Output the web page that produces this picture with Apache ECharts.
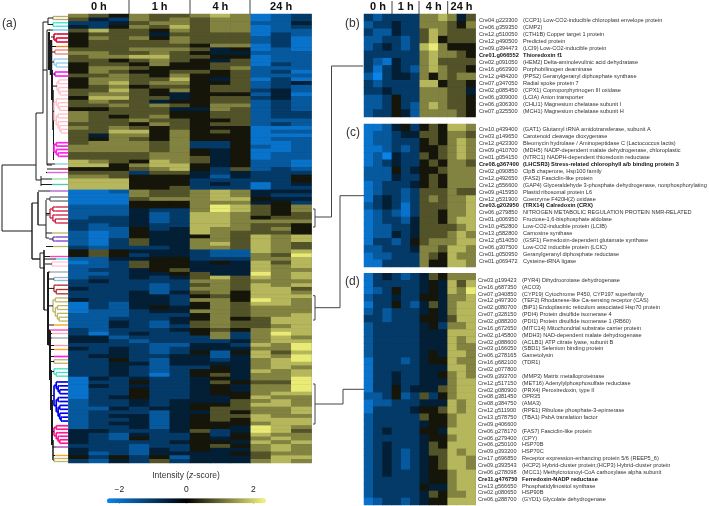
<!DOCTYPE html>
<html><head><meta charset="utf-8">
<script src="https://cdn.jsdelivr.net/npm/echarts@6/dist/echarts.min.js"></script>
<style>html,body{margin:0;padding:0;background:#fff}#c{width:709px;height:506px}</style>
</head><body><div id="c"></div><script>
// z-score code: each character of a row is an index into zLevels
const zLevels=[-2.37,-2.05,-1.6,-1.05,-0.55,0.2,0.8,1.25,1.75,2.25];
const columns=['0 h','0 h','0 h','1 h','1 h','1 h','4 h','4 h','4 h','24 h','24 h','24 h'];
const mainRows=["765766787123","643767677123","334677677224","435768677123","686657677122","566646666132","576757666231","566667666231","566666577131","666777645121","776676544222","677886655122","665676546122","566575566132","577655567222","576556656231","667657556222","577668546131","578677556234","567566566232","668657566342","677654555241","588664566342","676645566232","667676577232","556664476232","766665566233","765675566233","766766556222","666576566232","767656555111","668857565122","647757555111","657657555122","677767335112","777767335212","777767545112","666677545122","666677645122","876587645221","885788545221","555678536232","666366434333","776555424335","888555333335","888555343134","888556333133","112766787444","111766787433","111677788544","111555777453","222555798657","222433798657","222423887656","233423887566","333423887777","323433887665","322534877675","212544876665","212544576878","213644776878","213644786876","323334776876","565444322878","565344322769","224455333778","123655454868","223655444878","233456444877","223445644978","233434686878","343333776777","333323676878","433323776886","333424675887","333443565888","433443775987","132443576887","132454576777","122344776777","222333576778","223334575688","224324676688","224323676678","323334565788","313433573798","442333373787","443233334788","333322443879","434323444779","334323525868","344334424879","335324434789","334424444788","334323354787","334323554878","334313564778","143433454779","133533465669","143433454779","133533454779","133533455788","134533445877","233434446787","233434556887","224344566778","233324465778","234424566877","233424565888","234424555788","233424554987","443334634986","432433535877","432533545787","433334554878","333233565787","433243544787","423244445677","535352444688","324363444787"];
const panelBRows=["323333778746","233433777657","322433687666","223323685666","234323897555","333333787765","321433786666","313432787665","203443757677","323333885665","334333777664","223533777665","223532787665","233542777765"];
const panelCRows=["112453565887","122344665776","122333565787","112323556787","120433656787","123433565776","222534556777","222433565777","123334565777","123323666766","134323676778","234313666778","123213665778","123324665788","122334666678","122434666787","133235677788","223334776887","122333765877","113333755887"];
const panelDRows=["134323465777","133333454868","123533454879","233433554778","133532464788","232333454788","332333554688","233333453778","233333444888","233333444878","233333444877","233333454887","133323455877","133333444887","133433445787","133433444788","133534446788","223523635788","122333444878","133334556878","233333655788","233333455788","234333554888","233333455788","234333465888","234323466878","234323456887","234323456887","234333455788","233333455788","233333544788","233333465778","123323455888"];
const panelBLabels=[["Cre04.g223300","(CCP1) Low-CO2-inducible chloroplast envelope protein"],["Cre06.g359350","(CMP2)"],["Cre12.g510050","(CTH1B) Copper target 1 protein"],["Cre12.g490500","Predicted protein"],["Cre09.g394473","(LCI9) Low-CO2-inducible protein"],["Cre01.g066552","Thioredoxin f1",1],["Cre02.g091050","(HEM2) Delta-aminolevulinic acid dehydratase"],["Cre16.g663900","Porphobilinogen deaminase"],["Cre12.g484200","(PPS2) Geranylgeranyl diphosphate synthase"],["Cre07.g347050","Radial spoke protein 7"],["Cre02.g085450","(CPX1) Coproporphyrinogen III oxidase"],["Cre06.g309000","(LCIA) Anion transporter"],["Cre06.g306300","(CHLI1) Magnesium chelatase subunit I"],["Cre07.g325500","(MCH1) Magnesium chelatase subunit H"]];
const panelCLabels=[["Cre10.g439400","(GAT1) Glutamyl tRNA amidotransferase, subunit A"],["Cre03.g149650","Carotenoid cleavage dioxygenase"],["Cre12.g423300","Bleomycin hydrolase / Aminopeptidase C (Lactococcus lactis)"],["Cre09.g410700","(MDH5) NADP-dependent malate dehydrogenase, chloroplastic"],["Cre01.g054150","(NTRC1) NADPH-dependent thioredoxin reductase"],["Cre08.g367400","(LHCSR3) Stress-related chlorophyll a/b binding protein 3",1],["Cre02.g090850","ClpB chaperone, Hsp100 family"],["Cre12.g492650","(FAS2) Fasciclin-like protein"],["Cre12.g556600","(GAP4) Glyceraldehyde 3-phosphate dehydrogenase, nonphosphorylating"],["Cre09.g415950","Plastid ribosomal protein L6"],["Cre12.g531900","Coenzyme F420H(2) oxidase"],["Cre03.g202950","(TRX14) Calredoxin (CRX)",1],["Cre06.g279850","NITROGEN METABOLIC REGULATION PROTEIN NMR-RELATED"],["Cre01.g006950","Fructose-1,6-bisphosphate aldolase"],["Cre10.g452800","Low-CO2-inducible protein (LCIB)"],["Cre13.g582800","Carnosine synthase"],["Cre12.g514050","(GSF1) Ferredoxin-dependent glutamate synthase"],["Cre06.g307500","Low-CO2 inducible protein (LCIC)"],["Cre01.g050950","Geranylgeranyl diphosphate reductase"],["Cre01.g069472","Cysteine-tRNA ligase"]];
const panelDLabels=[["Cre03.g199423","(PYR4) Dihydroorotase dehydrogenase"],["Cre16.g687350","(ACO3)"],["Cre07.g340850","(CYP19) Cytochrome P450, CYP197 superfamily"],["Cre12.g497300","(TEF2) Rhodanese-like Ca-sensing receptor (CAS)"],["Cre02.g080700","(BiP1) Endoplasmic reticulum associated Hsp70 protein"],["Cre07.g328150","(PDI4) Protein disulfide isomerase 4"],["Cre02.g088200","(PDI1) Protein disulfide isomerase 1 (RB60)"],["Cre16.g672650","(MITC14) Mitochondrial substrate carrier protein"],["Cre02.g145800","(MDH3) NAD-dependent malate dehydrogenase"],["Cre02.g088600","(ACLB1) ATP citrate lyase, subunit B"],["Cre03.g166050","(SBD1) Selenium binding protein"],["Cre06.g278165","Gametolysin"],["Cre16.g682100","(TDR1)"],["Cre02.g077800",""],["Cre09.g393700","(MMP3) Matrix metalloproteinase"],["Cre12.g517150","(MET16) Adenylylphosphosulfate reductase"],["Cre02.g080900","(PRX4) Peroxiredoxin, type II"],["Cre08.g381450","OPR35"],["Cre08.g384750","(AMA3)"],["Cre12.g511900","(RPE1) Ribulose phosphate-3-epimerase"],["Cre13.g578750","(TBA1) PsbA translation factor"],["Cre09.g406600",""],["Cre06.g278170","(FAS7) Fasciclin-like protein"],["Cre06.g279400","(CPY)"],["Cre06.g250100","HSP70B"],["Cre09.g393200","HSP70C"],["Cre17.g696850","Receptor expression-enhancing protein 5/6 (REEP5_6)"],["Cre09.g393543","(HCP2) Hybrid-cluster protein;(HCP3) Hybrid-cluster protein"],["Cre06.g278098","(MCC1) Methylcrotonoyl-CoA carboxylase alpha subunit"],["Cre11.g476750","Ferredoxin-NADP reductase",1],["Cre13.g566650","Phosphatidylinositol synthase"],["Cre02.g080650","HSP90B"],["Cre06.g288700","(GYD1) Glycolate dehydrogenase"]];
// dendrogram, in the page-sized overlay axis: [x1,y1,x2,y2,width]
const trunkLines=[[2,165,2,231,1],[2,165,36,165,1],[2,231,32,231,1],[36,113,36,180,1],[36,113,43,113,1],[36,180,41,180,1],[43,22,43,113,1],[43,22,48,22,1],[48,18,48,25,1],[43,70,47,70,1],[47,30,47,165,1],[47,165,52,165,1],[47,30,50,30,1],[49,32,49,70,2],[51,40,51,75,2.5],[52,70,52,100,2],[53,90,53,130,1.5],[53.5,110,53.5,160,1],[41,176,41,186,1],[32,203,32,259,1.4],[32,203,38,203,1],[32,259,40,259,1.4],[38,192,38,225,1.4],[38,225,46,225,1],[46,200,46,238,1],[46,215,49,215,1],[46,238,49,238,1],[40,253,40,268,1],[40,253,44,253,1],[40,268,45,268,1],[44,250,44,310,1.6],[44,310,48,310,1],[48,272,48,345,2],[48,345,50,345,1],[50,330,50,380,2],[51,370,51,410,2],[52,400,52,445,2],[53,440,53,460,1.5]];
// coloured sub-clusters: [top,bottom,colour,root depth,trunk depth]
const clusters=[[15,21,'#b5a96b',53,48],[21,28,'#40e0d0',53,48],[29,31,'#5fc8f8',53,49],[32,44,'#e0143c',54,51],[45,48,'#e8871e',56,51],[48,56,'#f08070',55,51],[57,69,'#90c8f0',54,52],[70,78,'#ff20e8',55,52],[78,97,'#ffc0cb',57,53],[97,135,'#ffc0cb',54,53],[141,158,'#ff20e8',54,53.5],[163,165,'#90c8f0',55,47],[167,171,'#b02040',58,47],[170,175,'#e060e0',46,47],[177,181,'#90e8a0',52,41],[183,186,'#50c8b0',52,41],[189,193,'#b060d0',50,38],[195,203,'#707070',50,46],[205,225,'#d02040',50,46],[231,235,'#bdb76b',52,46],[235,243,'#8040d0',53,49],[245,248,'#bdb76b',53,46],[255,258,'#ff40c0',50,44],[258,260,'#40d8f8',56,44],[260,268,'#ffc8d8',52,45],[270,274,'#a0a8b8',50,48],[276,282,'#90b8d0',54,48],[283,296,'#b03030',54,48],[296,323,'#bdb76b',53,48],[323,327,'#ffa020',54,48],[329,331,'#ff40c0',50,48],[331,336,'#f0b0c0',52,48],[336,340,'#a0a8a8',52,48],[343,348,'#f0a0a0',54,50],[348,351,'#ffa020',54,50],[355,358,'#ff20e8',54,50],[358,365,'#bdb76b',54,50],[367,378,'#40e0c0',54,50],[380,423,'#0000f0',54,51],[424,445,'#ff1493',54,52],[445,449,'#a040c0',56,52],[454,457,'#ffa020',55,53],[457,463,'#bdb76b',54,53]];
// separators and brackets that link the main map to the detail panels
const linkLines=[[129,0,129,14,1],[190,0,190,14,1],[250,0,250,14,1],[392,1,392,14,1],[419,1,419,14,1],[447.7,1,447.7,14,1],
[313,209,315,209,1],[315,209,315,227,1],[313,227,315,227,1],[315,217,331.5,217,1],[331.5,66,331.5,217,1],[331.5,66,363,66,1],
[313,295.7,315,295.7,1],[315,295.7,315,320,1],[313,320,315,320,1],[315,307.7,340,307.7,1],[340,195.7,340,307.7,1],[340,195.7,364,195.7,1],
[313,384,315,384,1],[315,384,315,424,1],[313,424,315,424,1],[315,404,343,404,1],[343,389.3,343,404,1],[343,389.3,364,389.3,1]];

const segs=[];
trunkLines.forEach(s=>segs.push({v:s,c:'#1a1a1a'}));
linkLines.forEach(s=>segs.push({v:s,c:'#444'}));
const leafEnd=68, rowPx=3.74;
clusters.forEach(([y0,y1,color,root,trunk])=>{
  const n=Math.max(1,Math.round((y1-y0)/rowPx));
  const step=(y1-y0)/n, w=(color==='#0000f0'||color==='#e0143c'||color==='#ff20e8'||color==='#ff1493')?1.7:1.35;
  const add=(a,b,c,d)=>segs.push({v:[a,b,c,d,w],c:color});
  const build=(lo,hi,x)=>{
    if(lo===hi){const y=y0+step*(lo+.5);add(x,y,leafEnd,y);return y;}
    const mid=lo+Math.max(1,Math.floor((hi-lo+1)*.4));
    const nx=x+Math.max(1.2,(leafEnd-x)*.16);
    const a=build(lo,mid-1,nx), b=build(mid,hi,nx);
    add(x,a,nx,a);add(x,b,nx,b);add(x,a,x,b);
    return (a+b)/2;
  };
  const yr=build(0,n-1,root);
  segs.push({v:[trunk,yr,root,yr,1],c:'#1a1a1a'});
});

const heat=(rows)=>{const d=[];rows.forEach((r,i)=>{[...r].forEach((ch,j)=>d.push([j,i,zLevels[+ch]]));});return d;};
const panels=[
 {rows:mainRows,left:68.5,top:14,w:243,h:449,head:11},
 {rows:panelBRows,left:364,top:14,w:111.5,h:103,head:11},
 {rows:panelCRows,left:364,top:124,w:111.5,h:143,head:0},
 {rows:panelDRows,left:364,top:273.3,w:111.5,h:231.7,head:0}];
const labelPanels=[
 {labels:panelBLabels,left:479,first:20,last:111.3},
 {labels:panelCLabels,left:479,first:129.7,last:261.3},
 {labels:panelDLabels,left:478,first:280.3,last:499.7}];
const grid=[],xAxis=[],yAxis=[],series=[];
panels.forEach((p,i)=>{
  grid.push({left:p.left,top:p.top,width:p.w,height:p.h,show:true,backgroundColor:'#222',borderWidth:0});
  xAxis.push({type:'category',gridIndex:i,position:'top',data:columns,axisLine:{show:false},axisTick:{show:false},splitLine:{show:false},
    axisLabel:{show:p.head>0,interval:(k)=>k%3===1,margin:2,color:'#111',fontWeight:'bold',fontSize:p.head,fontFamily:'Liberation Sans'}});
  yAxis.push({type:'category',gridIndex:i,inverse:true,show:false,data:p.rows.map((_,k)=>k)});
  series.push({type:'heatmap',xAxisIndex:i,yAxisIndex:i,data:heat(p.rows),silent:true,progressive:0,itemStyle:{borderWidth:0}});
});
// overlay page-sized axes
const ov=grid.length;
grid.push({left:0,top:0,width:709,height:506,z:5});
xAxis.push({type:'value',gridIndex:ov,min:0,max:709,show:false});
yAxis.push({type:'value',gridIndex:ov,min:0,max:506,inverse:true,show:false});
series.push({type:'custom',xAxisIndex:ov,yAxisIndex:ov,silent:true,clip:false,z:6,
  data:segs.map(s=>s.v),
  renderItem:(params,api)=>{
    const a=api.coord([api.value(0),api.value(1)]),b=api.coord([api.value(2),api.value(3)]);
    return {type:'line',shape:{x1:a[0],y1:a[1],x2:b[0],y2:b[1]},style:{stroke:segs[params.dataIndex].c,lineWidth:api.value(4)}};
  }});
// label columns
labelPanels.forEach(p=>{
  const idx=grid.length,n=p.labels.length,step=(p.last-p.first)/(n-1);
  grid.push({left:p.left,top:p.first-step/2,width:225,height:step*n});
  xAxis.push({type:'value',gridIndex:idx,show:false});
  yAxis.push({type:'category',gridIndex:idx,inverse:true,data:p.labels.map(l=>l[0]),axisLine:{show:false},axisTick:{show:false},
    axisLabel:{inside:true,interval:0,margin:0,hideOverlap:false,
      formatter:(v,i)=>{const l=p.labels[i],b=l[2]?'B':'';return `{id${b}|${l[0]}}{d${b}|${l[1]}}`;},
      rich:{id:{width:44,fontSize:5.6,color:'#333',fontFamily:'Liberation Sans'},d:{fontSize:5.6,color:'#333',fontFamily:'Liberation Sans'},
            idB:{width:44,fontSize:5.7,color:'#111',fontWeight:'bold',fontFamily:'Liberation Sans'},dB:{fontSize:5.7,color:'#111',fontWeight:'bold',fontFamily:'Liberation Sans'}}}});
});
// colour-bar ticks
const cb=grid.length;
grid.push({left:107,top:498.3,width:158.8,height:5});
xAxis.push({type:'value',gridIndex:cb,position:'top',min:-2.37,max:2.37,axisLine:{show:false},splitLine:{show:false},
  axisTick:{show:true,length:3,lineStyle:{color:'#333'},customValues:[-2,0,2]},
  axisLabel:{customValues:[-2,0,2],margin:4,fontSize:8.5,color:'#222',fontFamily:'Liberation Sans',formatter:v=>String(v).replace('-','\u2212')}});
yAxis.push({type:'value',gridIndex:cb,show:false});

const chart=echarts.init(document.getElementById('c'),null,{renderer:'canvas'});
chart.setOption({animation:false,backgroundColor:'#fff',
  grid,xAxis,yAxis,series,
  visualMap:{type:'continuous',seriesIndex:[0,1,2,3],min:-2.37,max:2.37,orient:'horizontal',left:107,top:498.3,itemWidth:5,itemHeight:158.8,padding:0,calculable:false,hoverLink:false,text:null,showLabel:false,
    inRange:{color:['#0a84ea','#000000','#f6f67c']}},
  title:[
    {text:'{a|Intensity (}{b|z}{a|-score)}',left:186,top:471,textAlign:'center',padding:0,textStyle:{fontWeight:'normal',rich:{a:{fontSize:8.5,fontWeight:'normal',color:'#333',fontFamily:'Liberation Sans'},b:{fontSize:8.5,fontWeight:'normal',fontStyle:'italic',color:'#333',fontFamily:'Liberation Sans'}}}},
    {text:'(a)',left:2,top:18,padding:0,textStyle:{fontSize:12,fontWeight:'normal',color:'#333',fontFamily:'Liberation Sans'}},
    {text:'(b)',left:345,top:18,padding:0,textStyle:{fontSize:12,fontWeight:'normal',color:'#333',fontFamily:'Liberation Sans'}},
    {text:'(c)',left:346,top:127,padding:0,textStyle:{fontSize:12,fontWeight:'normal',color:'#333',fontFamily:'Liberation Sans'}},
    {text:'(d)',left:345,top:276,padding:0,textStyle:{fontSize:12,fontWeight:'normal',color:'#333',fontFamily:'Liberation Sans'}}
  ]});
</script></body></html>
